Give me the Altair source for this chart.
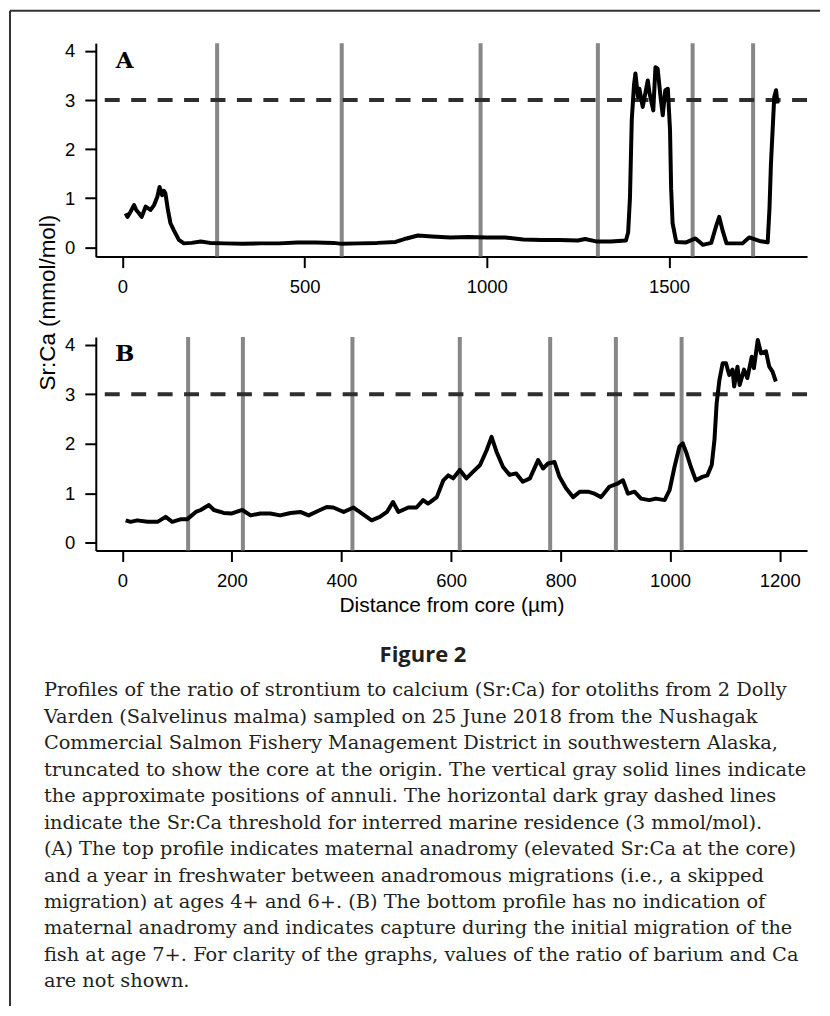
import altair as alt
import pandas as pd

# ---------------- data ----------------
a_x = [9, 14, 22, 32, 38, 45, 53, 64, 77, 87, 96, 102, 109, 114, 118, 125, 132, 141, 155, 169,
       190, 215, 240, 280, 330, 380, 430, 480, 530, 580, 602, 650, 700, 750, 780, 811, 850,
       900, 950, 1000, 1050, 1100, 1150, 1200, 1250, 1270, 1300, 1340, 1382, 1388, 1393,
       1398, 1404, 1408, 1415, 1419, 1428, 1442, 1447, 1457, 1463, 1469, 1477, 1483, 1490,
       1497, 1503, 1506, 1510, 1520, 1547, 1573, 1593, 1616, 1629, 1638, 1647, 1658, 1702,
       1720, 1748, 1771, 1776, 1780, 1789, 1794, 1798]
a_y = [0.69, 0.62, 0.72, 0.86, 0.76, 0.70, 0.62, 0.83, 0.76, 0.86, 1.03, 1.23, 1.06, 1.15, 1.10,
       0.76, 0.49, 0.35, 0.15, 0.08, 0.09, 0.12, 0.09, 0.08, 0.07, 0.08, 0.08, 0.10, 0.10,
       0.09, 0.07, 0.08, 0.09, 0.11, 0.18, 0.24, 0.22, 0.20, 0.21, 0.20, 0.20, 0.16, 0.15,
       0.15, 0.14, 0.17, 0.12, 0.12, 0.14, 0.30, 1.00, 2.60, 3.30, 3.54, 3.06, 3.23, 2.86,
       3.40, 3.13, 2.79, 3.67, 3.64, 3.06, 2.69, 3.20, 3.23, 2.38, 1.20, 0.49, 0.11, 0.10,
       0.18, 0.05, 0.09, 0.42, 0.62, 0.35, 0.08, 0.08, 0.20, 0.13, 0.10, 0.80, 1.71, 3.06,
       3.20, 2.93]

b_x = [6, 15, 27, 46, 64, 79, 91, 106, 118, 134, 143, 158, 167, 185, 200, 219, 234, 252, 270,
       288, 307, 325, 340, 355, 373, 385, 404, 422, 437, 455, 470, 483, 494, 504, 522, 537,
       549, 558, 562, 574, 586, 595, 604, 616, 628, 640, 653, 665, 674, 683, 695, 707, 719,
       731, 744, 759, 768, 777, 789, 798, 810, 823, 835, 850, 862, 874, 889, 905, 914, 923,
       935, 947, 962, 974, 990, 999, 1008, 1017, 1023, 1029, 1038, 1047, 1059, 1068, 1076,
       1081, 1085, 1090, 1096, 1102, 1108, 1114, 1117, 1123, 1127, 1135, 1141, 1149, 1153,
       1160, 1166, 1175, 1181, 1187, 1193]
b_y = [0.45, 0.42, 0.45, 0.42, 0.42, 0.52, 0.42, 0.47, 0.47, 0.62, 0.66, 0.76, 0.66, 0.60,
       0.59, 0.66, 0.55, 0.59, 0.59, 0.55, 0.60, 0.62, 0.55, 0.63, 0.72, 0.71, 0.62, 0.71,
       0.59, 0.45, 0.52, 0.62, 0.82, 0.62, 0.71, 0.71, 0.86, 0.79, 0.82, 0.92, 1.26, 1.36,
       1.30, 1.47, 1.30, 1.43, 1.57, 1.87, 2.14, 1.84, 1.53, 1.37, 1.40, 1.23, 1.30, 1.67,
       1.50, 1.60, 1.63, 1.33, 1.10, 0.92, 1.03, 1.03, 0.99, 0.92, 1.13, 1.20, 1.26, 0.99,
       1.03, 0.89, 0.86, 0.89, 0.86, 1.06, 1.53, 1.94, 2.01, 1.84, 1.53, 1.26, 1.33, 1.36,
       1.57, 2.08, 2.82, 3.29, 3.63, 3.63, 3.39, 3.50, 3.16, 3.56, 3.19, 3.50, 3.33, 3.76,
       3.53, 4.10, 3.83, 3.87, 3.56, 3.46, 3.26]

annuli_a = [260, 602, 983, 1305, 1565, 1731]
annuli_b = [120, 220, 420, 616, 781, 901, 1021]
threshold = 3

x_ticks_a = [0, 500, 1000, 1500]
x_ticks_b = [0, 200, 400, 600, 800, 1000, 1200]
y_ticks = [0, 1, 2, 3, 4]

caption_lines = [
    "Profiles of the ratio of strontium to calcium (Sr:Ca) for otoliths from 2 Dolly",
    "Varden (Salvelinus malma) sampled on 25 June 2018 from the Nushagak",
    "Commercial Salmon Fishery Management District in southwestern Alaska,",
    "truncated to show the core at the origin. The vertical gray solid lines indicate",
    "the approximate positions of annuli. The horizontal dark gray dashed lines",
    "indicate the Sr:Ca threshold for interred marine residence (3 mmol/mol).",
    "(A) The top profile indicates maternal anadromy (elevated Sr:Ca at the core)",
    "and a year in freshwater between anadromous migrations (i.e., a skipped",
    "migration) at ages 4+ and 6+. (B) The bottom profile has no indication of",
    "maternal anadromy and indicates capture during the initial migration of the",
    "fish at age 7+. For clarity of the graphs, values of the ratio of barium and Ca",
    "are not shown.",
]

PW, PH = 713, 214
LABEL_FONT = "Liberation Sans"


def panel(xs, ys, annuli, xdomain, ydomain, xticks, letter, xtitle=None, ytitle=None):
    line_df = pd.DataFrame({"x": xs, "y": ys})
    ann_df = pd.DataFrame({"x": annuli})
    thr_df = pd.DataFrame({"y": [threshold]})
    let_df = pd.DataFrame({"t": [letter]})

    xaxis = dict(values=xticks, format="d", grid=False, labelFlush=False, labelPadding=10)
    if xtitle:
        xaxis.update(title=xtitle, titlePadding=5)
    else:
        xaxis.update(title=None)
    yaxis = dict(values=y_ticks, format="d", grid=False, labelPadding=10)
    if ytitle:
        yaxis.update(title=ytitle, titleX=-48, titleY=-35, titleAngle=270,
                     titleAlign="center", titleBaseline="middle", titleFontSize=22.5)
    else:
        yaxis.update(title=None)

    xs_ = alt.Scale(domain=xdomain, nice=False, zero=False)
    ys_ = alt.Scale(domain=ydomain, nice=False, zero=False)

    ann = alt.Chart(ann_df).mark_rule(color="#878787", strokeWidth=4).encode(
        x=alt.X("x:Q", scale=xs_, axis=alt.Axis(**xaxis))
    )
    thr = alt.Chart(thr_df).mark_rule(color="#2e2e2e", strokeWidth=4, strokeDash=[15, 11.5]).encode(
        y=alt.Y("y:Q", scale=ys_, axis=alt.Axis(**yaxis))
    )
    ln = alt.Chart(line_df).mark_line(color="black", strokeWidth=4, strokeJoin="round").encode(
        x=alt.X("x:Q", scale=xs_, axis=alt.Axis(**xaxis)),
        y=alt.Y("y:Q", scale=ys_, axis=alt.Axis(**yaxis)),
    )
    let = alt.Chart(let_df).mark_text(font="DejaVu Serif", fontWeight="bold", fontSize=23,
                                      color="black", align="center", baseline="middle").encode(
        x=alt.value(29), y=alt.value(17.5), text="t:N"
    )
    return alt.layer(ann, thr, ln, let).properties(width=PW, height=PH)


pa = panel(a_x, a_y, annuli_a, [-73, 1879], [-0.19, 4.16], x_ticks_a, "A")
pb = panel(b_x, b_y, annuli_b, [-48.6, 1250], [-0.16, 4.16], x_ticks_b, "B",
           xtitle="Distance from core (\u00b5m)", ytitle="Sr:Ca (mmol/mol)")

cap_df = pd.DataFrame({"i": list(range(len(caption_lines))), "t": caption_lines})
cap = alt.Chart(cap_df).mark_text(font="DejaVu Serif", fontSize=19.4, color="#231f20",
                                  align="left", baseline="middle").encode(
    x=alt.value(-52),
    y=alt.Y("i:Q", scale=alt.Scale(domain=[0, 11], range=[59.4, 351.4]), axis=None),
    text="t:N",
)
fig = alt.Chart(pd.DataFrame({"t": ["Figure 2"]})).mark_text(
    font="Open Sans", fontWeight="bold", fontSize=22, color="#231f20",
    align="center", baseline="middle").encode(x=alt.value(328), y=alt.value(24.4), text="t:N")

one = pd.DataFrame({"k": [0]})
border_left = alt.Chart(one).mark_rule(color="#333333", strokeWidth=2).encode(
    x=alt.value(-86), y=alt.value(-621.6), y2=alt.value(376))
border_top = alt.Chart(one).mark_rule(color="#333333", strokeWidth=2).encode(
    x=alt.value(-86), x2=alt.value(726), y=alt.value(-621.6))

pc = alt.layer(fig, cap, border_left, border_top).properties(width=PW, height=380)

chart = alt.vconcat(pa, pb, pc, spacing=80.6, bounds="flush").properties(
    padding=0, background="white"
).configure_view(stroke="transparent").configure_axis(
    domainColor="black", domainWidth=2, tickColor="black", tickWidth=2, tickSize=11,
    labelFont=LABEL_FONT, labelFontSize=18.5, labelColor="black",
    titleFont=LABEL_FONT, titleFontSize=21, titleFontWeight="normal", titleColor="black",
)

chart.save("out.html", embed_options={"renderer": "svg", "actions": False})
